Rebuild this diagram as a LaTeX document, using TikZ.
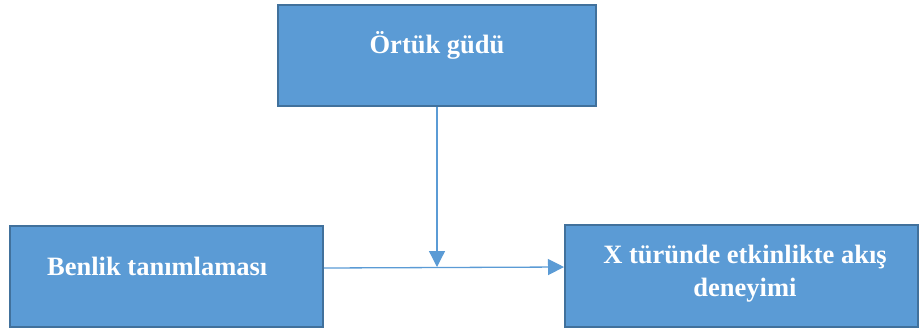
\documentclass[tikz,border=0pt]{standalone}
\usepackage{fontspec}
\setmainfont{Liberation Serif}
\usetikzlibrary{arrows.meta,calc}
\definecolor{boxfill}{HTML}{5B9BD5}
\definecolor{boxline}{HTML}{41719C}
\tikzset{
  block/.style={draw=boxline, line width=2pt, fill=boxfill, inner sep=0pt},
  lbl/.style={text=white, font=\fontsize{26.5}{33}\selectfont\bfseries, inner sep=0pt},
  link/.style={draw=boxfill, line width=1.3pt, -{Triangle[length=16pt,width=16pt]}}
}
\begin{document}
\begin{tikzpicture}[x=1pt,y=-1pt]
  \useasboundingbox (0,0) rectangle (920,330);
  % boxes
  \node[block, minimum width=318pt, minimum height=101pt] (motive) at (437,55.5) {};
  \node[block, minimum width=313pt, minimum height=101pt] (self) at (166.5,276.5) {};
  \node[block, minimum width=353pt, minimum height=102pt] (flow) at (741.5,276) {};
  % labels
  \node[lbl, anchor=base] (motivetxt) at (437,53) {Örtük güdü};
  \node[lbl, anchor=base west] (selftxt) at (47,275) {Benlik tanımlaması};
  \node[lbl, anchor=base] (flowtxt1) at (745,263) {X türünde etkinlikte akış};
  \node[lbl, anchor=base] (flowtxt2) at (745,296) {deneyimi};
  % connectors
  \coordinate (selfout) at ($(self.east)+(0,-8.5)$);
  \coordinate (flowin) at ($(flow.west)+(0,-9)$);
  \coordinate (meet) at (437,267);
  \draw[link] (selfout) -- (flowin);
  \draw[link] (motive.south) -- (meet);
\end{tikzpicture}
\end{document}
